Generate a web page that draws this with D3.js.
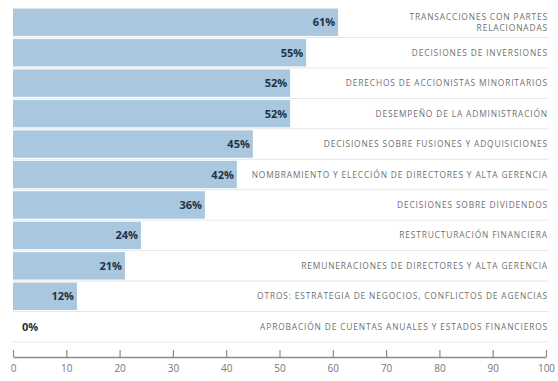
<!DOCTYPE html>
<html>
<head>
<meta charset="utf-8">
<script src="https://d3js.org/d3.v7.min.js"></script>
<style>
body { margin: 0; background: #fff; }
svg { font-family: "Open Sans", "DejaVu Sans", sans-serif; }
</style>
</head>
<body>
<div id="chart"></div>
<script>
var categories = [
    ["TRANSACCIONES CON PARTES", "RELACIONADAS"],
    ["DECISIONES DE INVERSIONES"],
    ["DERECHOS DE ACCIONISTAS MINORITARIOS"],
    ["DESEMPEÑO DE LA ADMINISTRACIÓN"],
    ["DECISIONES SOBRE FUSIONES Y ADQUISICIONES"],
    ["NOMBRAMIENTO Y ELECCIÓN DE DIRECTORES Y ALTA GERENCIA"],
    ["DECISIONES SOBRE DIVIDENDOS"],
    ["RESTRUCTURACIÓN FINANCIERA"],
    ["REMUNERACIONES DE DIRECTORES Y ALTA GERENCIA"],
    ["OTROS: ESTRATEGIA DE NEGOCIOS, CONFLICTOS DE AGENCIAS"],
    ["APROBACIÓN DE CUENTAS ANUALES Y ESTADOS FINANCIEROS"]
];
var values = [61, 55, 52, 52, 45, 42, 36, 24, 21, 12, 0];
var ticks = [0, 10, 20, 30, 40, 50, 60, 70, 80, 90, 100];

var width = 558, height = 381;
var svg = d3.select("#chart").append("svg")
    .attr("width", width).attr("height", height);

var x = d3.scaleLinear().domain([0, 100]).range([13, 546]);
var y = d3.scaleBand().domain(d3.range(values.length)).range([7, 342]).paddingInner(0.1).paddingOuter(0.05);

// row separators
svg.selectAll(".sep").data(d3.range(values.length)).enter().append("line")
    .attr("x1", 13).attr("x2", 549)
    .attr("y1", function (d) { return y(d) + y.bandwidth() + y.step() * 0.05; })
    .attr("y2", function (d) { return y(d) + y.bandwidth() + y.step() * 0.05; })
    .attr("stroke", "#e6e6e6").attr("stroke-width", 1);

svg.selectAll(".bar").data(values).enter().append("rect")
    .attr("x", x(0))
    .attr("y", function (d, i) { return y(i); })
    .attr("width", function (d) { return x(d) - x(0); })
    .attr("height", y.bandwidth())
    .attr("fill", "#a9c7df");

svg.selectAll(".val").data(values).enter().append("text")
    .attr("x", function (d) { return d > 5 ? x(d) - 3 : x(0) + 9; })
    .attr("y", function (d, i) { return y(i) + y.bandwidth() / 2 + 4; })
    .attr("text-anchor", function (d) { return d > 5 ? "end" : "start"; })
    .attr("font-size", 11).attr("font-weight", "bold")
    .attr("fill", "#1d3147")
    .text(function (d) { return d + "%"; });

categories.forEach(function (lines, i) {
    var t = svg.append("text")
        .attr("text-anchor", "end")
        .attr("font-size", 8.4)
        .attr("letter-spacing", 0.85)
        .attr("fill", "#707070");
    var cy = y(i) + y.bandwidth() / 2 + 3 - (lines.length - 1) * 5.5;
    lines.forEach(function (l, j) {
        t.append("tspan").attr("x", 548).attr("y", cy + j * 11).text(l);
    });
});

var axis = d3.axisBottom(x).tickValues(ticks).tickSize(0).tickPadding(8);
var g = svg.append("g").attr("transform", "translate(0,357)").call(axis);
g.select(".domain").attr("stroke", "#8a8a8a").attr("stroke-width", 1.5);
g.selectAll(".tick line").attr("y2", -7).attr("stroke", "#8a8a8a").attr("stroke-width", 1.2);
g.selectAll(".tick text").attr("font-size", 10).attr("fill", "#777")
    .attr("font-family", "'Open Sans', 'DejaVu Sans', sans-serif");
</script>
</body>
</html>
